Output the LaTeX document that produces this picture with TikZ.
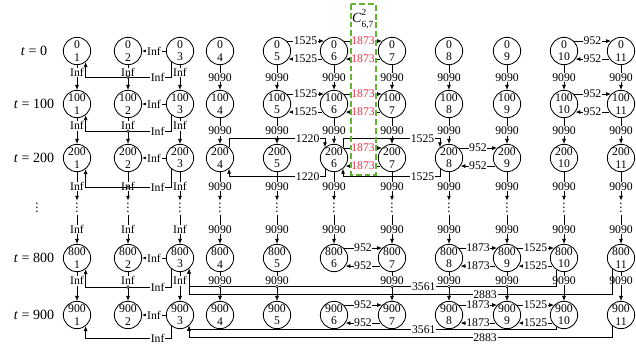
\documentclass[tikz,border=0pt]{standalone}
\usepackage{amsmath}
\usepackage{fontspec}
\setmainfont{Liberation Serif}
\newfontfamily\symfont{DejaVu Sans}
\usetikzlibrary{arrows.meta}
\definecolor{capred}{RGB}{235,50,70}
\definecolor{capgreen}{RGB}{100,180,50}
\tikzset{>={Latex[length=4.2pt,width=3.4pt]},
  every node/.style={font=\fontsize{10}{10.5}\selectfont},
  state/.style={circle,draw,line width=0.7pt,minimum size=8.2mm,inner sep=0pt,align=center},
  lbl/.style={fill=white,inner sep=0.6pt},
  link/.style={->,line width=0.6pt},
  tlab/.style={font=\fontsize{12}{14}\selectfont},
  vdot/.style={inner sep=2pt,font=\symfont\fontsize{10}{12}\selectfont},
  hop/.style={circle,draw,fill=white,line width=0.4pt,inner sep=0pt,minimum size=2.4pt}}
% two opposite links between neighbours: upper one to the right, lower one back
\newcommand{\pairlink}[4][black]{%
  \draw[link] (#2.45) -- node[lbl,text=#1]{#4} (#3.135);
  \draw[link] (#3.-145) -- node[lbl,text=#1]{#4} (#2.-35);}

\begin{document}
\begin{tikzpicture}[x=0.3mm,y=-0.3mm]
\useasboundingbox (0,0) rectangle (636,345);
% states
\foreach \tm/\y in {0/51,100/104,200/158,800/258,900/315}{
  \node[tlab] (lab\tm) at (34,\y) {\textit{t} = \tm};
  \foreach \i/\x in {1/77,2/128,3/180,4/220,5/277,6/334,7/392,8/449,9/507,10/564,11/621}
    \node[state] (n\tm-\i) at (\x,\y) {\tm\\\i};
}
\node[vdot] (labdots) at (37,208) {⋮};
% waiting links
\foreach \a/\b/\p in {0/100/0.5,100/200/0.5}{
  \foreach \i in {1,2,3}
    \draw[link] (n\a-\i) -- node[lbl,pos=0.3]{Inf} (n\b-\i);
  \foreach \i in {4,...,11}
    \draw[link] (n\a-\i) -- node[lbl,pos=\p]{9090} (n\b-\i);
}
\foreach \i in {1,2,3}
  \draw[link] (n800-\i) -- node[lbl,pos=0.3]{Inf} (n900-\i);
\foreach \i in {4,5,7,8,9,10,11}
  \draw[link] (n800-\i) -- node[lbl,pos=0.3]{9090} (n900-\i);
\foreach \i/\wt in {1/Inf,2/Inf,3/Inf,4/9090,5/9090,6/9090,7/9090,8/9090,9/9090,10/9090,11/9090}{
  \node[vdot] (dots\i) at (n200-\i |- labdots) {⋮};
  \draw[link] (n200-\i) -- node[lbl]{\wt} (dots\i);
  \draw[link] (dots\i) -- node[lbl]{\wt} (n800-\i);
}
% Inf links of the first group
\foreach \tm/\d in {0/15,100/16,200/18,800/18,900/12}{
  \draw[link] (n\tm-3) -- node[lbl]{Inf} (n\tm-2);
  \draw[link] (n\tm-3.-128) -- ++(0,\d) coordinate (inf\tm) -| node[lbl,pos=0.08]{Inf} (n\tm-1.-52);
}
% neighbour links
\foreach \tm in {0,100}{
  \pairlink{n\tm-5}{n\tm-6}{1525}
  \pairlink[capred]{n\tm-6}{n\tm-7}{1873}
  \pairlink{n\tm-10}{n\tm-11}{952}}
\pairlink[capred]{n200-6}{n200-7}{1873}
\pairlink{n200-8}{n200-9}{952}
\foreach \tm in {800,900}{
  \pairlink{n\tm-6}{n\tm-7}{952}
  \pairlink{n\tm-8}{n\tm-9}{1873}
  \pairlink{n\tm-9}{n\tm-10}{1525}}
% routed links at t=200
\draw[link] (n200-4.50) -- ++(0,-9) -| node[lbl,pos=0.41]{1220} (n200-6.130);
\draw[link] (n200-6.-130) -- ++(0,8) -| node[lbl,pos=0.09]{1220} (n200-4.-50);
\draw[link] (n200-6.50) -- ++(0,-9) -| node[lbl,pos=0.41]{1525} (n200-8.130);
\draw[link] (n200-8.-130) -- ++(0,8) -| node[lbl,pos=0.09]{1525} (n200-6.-50);
% long links back to node 3
\draw[link] (n800-10.-125) -- ++(0,17) coordinate (far800) -| node[lbl,pos=0.18]{3561} (n800-3.-50);
\draw[link] (n800-11.-130) -- ++(0,26) -| node[lbl,pos=0.15]{2883} (n800-3.-50);
\draw[link] (n900-10.-125) -- ++(0,3) -| node[lbl,pos=0.18]{3561} (n900-3.-50);
\draw[link] (n900-11.-130) -- ++(0,12) -| node[lbl,pos=0.15]{2883} (n900-3.-50);
% crossings
\foreach \tm in {0,100,200,800}
  \node[hop] at (n\tm-2 |- inf\tm) {};
\foreach \i in {4,5,7,8,9}
  \node[hop] at (n800-\i |- far800) {};
% capacity box
\draw[capgreen,line width=1pt,dash pattern=on 5pt off 2.5pt] (351,4) rectangle (376,175);
\node[font=\fontsize{12}{14}\selectfont] (cap) at (363,19)
  {\textit{C}$^{\text{\raisebox{1.5pt}{2}}}_{\text{\raisebox{-1.5pt}{6,7}}}$};
\end{tikzpicture}
\end{document}
